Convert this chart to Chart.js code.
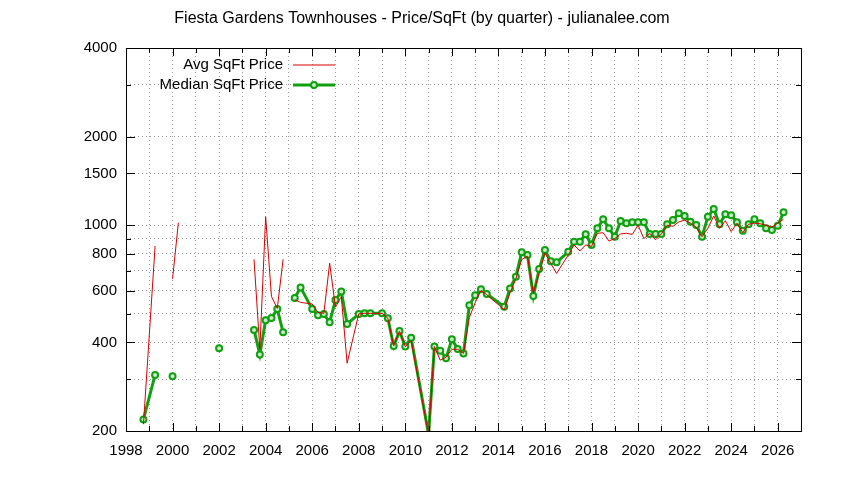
<!DOCTYPE html>
<html>
<head>
<meta charset="utf-8">
<script src="https://cdn.jsdelivr.net/npm/chart.js@4.4.0/dist/chart.umd.min.js"></script>
<style>
  body { margin: 0; background: #fff; }
</style>
</head>
<body>
<canvas id="myChart" width="844" height="480"></canvas>
<script>
// quarters (decimal year), null rows break the lines
var quarters = [
  1998.75, 1999.25, 1999.5, 2000.0, 2000.25, 2000.5, 2002.0, 2002.25,
  2003.5, 2003.75, 2004.0, 2004.25, 2004.5, 2004.75, 2005.0,
  2005.25, 2005.5, 2006.0, 2006.25, 2006.5, 2006.75, 2007.0, 2007.25, 2007.5,
  2008.0, 2008.25, 2008.5, 2009.0, 2009.25, 2009.5, 2009.75, 2010.0, 2010.25,
  2011.0, 2011.25, 2011.5, 2011.75, 2012.0, 2012.25, 2012.5, 2012.75,
  2013.0, 2013.25, 2013.5, 2014.25, 2014.5, 2014.75, 2015.0, 2015.25,
  2015.5, 2015.75, 2016.0, 2016.25, 2016.5, 2017.0, 2017.25, 2017.5,
  2017.75, 2018.0, 2018.25, 2018.5, 2018.75, 2019.0, 2019.25, 2019.5,
  2019.75, 2020.0, 2020.25, 2020.5, 2020.75, 2021.0, 2021.25, 2021.5,
  2021.75, 2022.0, 2022.25, 2022.5, 2022.75, 2023.0, 2023.25, 2023.5,
  2023.75, 2024.0, 2024.25, 2024.5, 2024.75, 2025.0, 2025.25, 2025.5,
  2025.75, 2026.0, 2026.25
];
var avgPrice = [
  211, 850, null, 657, 1020, null, 382, null,
  766, 380, 1069, 572, 522, 766, null,
  558, 547, 540, 506, 502, 743, 527, 572, 340,
  500, 502, 502, 502, 483, 389, 437, 387, 405,
  195, 387, 348, 356, 379, 379, 367, 486,
  545, 600, 581, 516, 590, 658, 765, 785,
  588, 686, 805, 742, 686, 792, 857, 818,
  857, 848, 939, 943, 884, 901, 934, 939,
  931, 1000, 901, 939, 892, 934, 1000, 992,
  1026, 1041, 1016, 984, 914, 976, 1075, 976,
  1036, 952, 1016, 943, 1008, 1016, 1012, 1000,
  985, 1016, 1048
];
var medianPrice = [
  219, 310, null, 307, null, null, 382, null,
  441, 364, 476, 484, 519, 433, null,
  566, 615, 519, 495, 499, 468, 557, 596, 462,
  499, 502, 502, 502, 483, 389, 437, 387, 415,
  195, 387, 375, 353, 410, 380, 367, 535,
  578, 606, 584, 529, 610, 669, 809, 792,
  575, 710, 824, 754, 748, 812, 879, 879,
  932, 857, 976, 1048, 976, 914, 1034, 1016,
  1024, 1024, 1024, 934, 934, 934, 1008, 1041,
  1098, 1075, 1028, 1002, 914, 1069, 1135, 1008,
  1089, 1081, 1024, 958, 1008, 1048, 1016, 976,
  963, 996, 1107
];
var yTicks = [200, 300, 400, 500, 600, 700, 800, 900, 1000, 1500, 2000, 3000, 4000];
var yLabels = [200, 400, 600, 800, 1000, 1500, 2000, 4000];
var xYears = [];
for (var yr = 1998; yr <= 2027; yr++) xYears.push(yr);

var chartTitle = "Fiesta Gardens Townhouses - Price/SqFt (by quarter) - julianalee.com";
var FONT = "'Liberation Sans', Arial, sans-serif";
var redColor = "#d80000";
var greenColor = "#10a010";

function toPoints(values) {
  return quarters.map(function (q, i) { return { x: q, y: values[i] }; });
}

// title centred on the whole canvas, like gnuplot does
var titlePlugin = {
  id: "gpTitle",
  afterDraw: function (chart) {
    var ctx = chart.ctx;
    ctx.save();
    ctx.font = "16px " + FONT;
    ctx.textAlign = "center";
    ctx.textBaseline = "middle";
    ctx.fillStyle = "#000";
    ctx.fillText(chartTitle, chart.width / 2, 19);
    ctx.restore();
  }
};

// gnuplot style key: text on the left, sample on the right
var keyPlugin = {
  id: "key",
  afterDraw: function (chart) {
    var ctx = chart.ctx;
    ctx.save();
    ctx.font = "15px " + FONT;
    ctx.textAlign = "right";
    ctx.textBaseline = "middle";
    ctx.fillStyle = "#000";
    var rows = [65, 85];
    chart.data.datasets.forEach(function (ds, i) {
      var y = rows[i];
      ctx.fillText(ds.label, 283, y);
      ctx.strokeStyle = ds.borderColor;
      ctx.lineWidth = ds.borderWidth;
      ctx.beginPath();
      ctx.moveTo(293, y);
      ctx.lineTo(335, y);
      ctx.stroke();
      if (ds.pointRadius > 0) {
        ctx.beginPath();
        ctx.arc(314, y, ds.pointRadius, 0, Math.PI * 2);
        ctx.fillStyle = ds.pointBackgroundColor;
        ctx.fill();
        ctx.lineWidth = ds.pointBorderWidth;
        ctx.stroke();
        ctx.fillStyle = "#000";
      }
    });
    ctx.restore();
  }
};

// frame and inward tick marks on all four sides
var framePlugin = {
  id: "frame",
  afterDraw: function (chart) {
    var a = chart.chartArea;
    var ctx = chart.ctx;
    var xs = chart.scales.x, ys = chart.scales.y;
    ctx.save();
    ctx.strokeStyle = "#000";
    ctx.lineWidth = 1;
    ctx.beginPath();
    xs.ticks.forEach(function (t) {
      var px = Math.round(xs.getPixelForValue(t.value)) + 0.5;
      var len = t.value % 2 === 0 ? 8 : 5;
      ctx.moveTo(px, a.bottom); ctx.lineTo(px, a.bottom - len);
      ctx.moveTo(px, a.top); ctx.lineTo(px, a.top + len);
    });
    ys.ticks.forEach(function (t) {
      var py = Math.round(ys.getPixelForValue(t.value)) + 0.5;
      var len = yLabels.indexOf(t.value) >= 0 ? 9 : 5;
      ctx.moveTo(a.left, py); ctx.lineTo(a.left + len, py);
      ctx.moveTo(a.right, py); ctx.lineTo(a.right - len, py);
    });
    ctx.stroke();
    ctx.strokeRect(Math.round(a.left) + 0.5, Math.round(a.top) + 0.5,
      Math.round(a.right - a.left), Math.round(a.bottom - a.top));
    ctx.restore();
  }
};

new Chart("myChart", {
  type: "line",
  data: {
    datasets: [
      {
        label: "Avg SqFt Price",
        data: toPoints(avgPrice),
        borderColor: redColor,
        borderWidth: 1,
        pointRadius: 0,
        tension: 0,
        spanGaps: false
      },
      {
        label: "Median SqFt Price",
        data: toPoints(medianPrice),
        borderColor: greenColor,
        borderWidth: 3,
        pointRadius: 3,
        pointBorderWidth: 2,
        pointBackgroundColor: "#c8ecc8",
        pointBorderColor: greenColor,
        tension: 0,
        spanGaps: false
      }
    ]
  },
  options: {
    responsive: false,
    animation: false,
    parsing: false,
    layout: { padding: { left: 0, right: 43, top: 48, bottom: 0 } },
    plugins: {
      legend: { display: false },
      tooltip: { enabled: false },
      title: { display: false }
    },
    scales: {
      x: {
        type: "linear",
        min: 1998,
        max: 2027,
        afterBuildTicks: function (scale) {
          scale.ticks = xYears.map(function (v) { return { value: v }; });
        },
        afterFit: function (scale) { scale.height = 49; },
        ticks: {
          autoSkip: false,
          maxRotation: 0,
          padding: 11,
          color: "#000",
          font: { family: FONT, size: 15 },
          callback: function (v) { return v % 2 === 0 && v < 2027 ? String(v) : ""; }
        },
        grid: {
          color: "#999",
          lineWidth: 1,
          drawTicks: false
        },
        border: { display: false, dash: [1, 3] }
      },
      y: {
        type: "logarithmic",
        min: 200,
        max: 4000,
        afterBuildTicks: function (scale) {
          scale.ticks = yTicks.map(function (v) { return { value: v }; });
        },
        afterFit: function (scale) { scale.width = 126; },
        ticks: {
          autoSkip: false,
          padding: 9,
          color: "#000",
          font: { family: FONT, size: 15 },
          callback: function (v) { return yLabels.indexOf(v) >= 0 ? String(v) : ""; }
        },
        grid: {
          color: "#999",
          lineWidth: 1,
          drawTicks: false
        },
        border: { display: false, dash: [1, 3] }
      }
    }
  },
  plugins: [titlePlugin, keyPlugin, framePlugin]
});
</script>
</body>
</html>
